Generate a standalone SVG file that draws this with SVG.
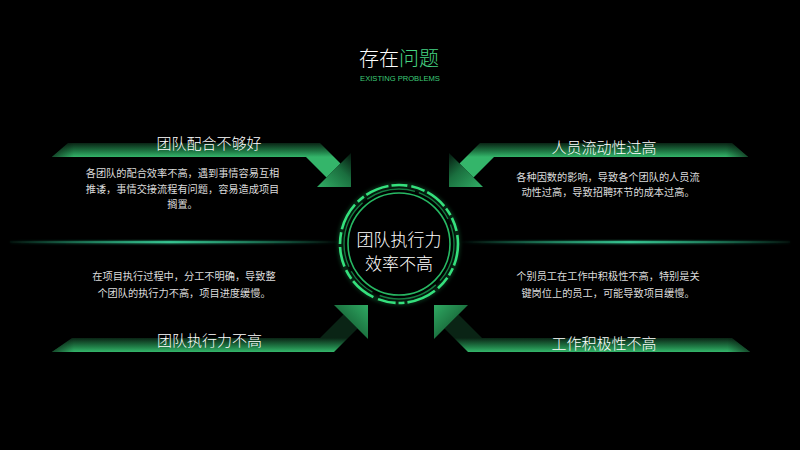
<svg xmlns="http://www.w3.org/2000/svg" width="800" height="450" viewBox="0 0 800 450">
  <defs>
    <linearGradient id="bandTop" x1="0" y1="143" x2="0" y2="157" gradientUnits="userSpaceOnUse">
      <stop offset="0" stop-color="#0a2415"/>
      <stop offset="0.6" stop-color="#1f7a45"/>
      <stop offset="1" stop-color="#34b56a"/>
    </linearGradient>
    <linearGradient id="bandBot" x1="0" y1="338" x2="0" y2="352" gradientUnits="userSpaceOnUse">
      <stop offset="0" stop-color="#0a2415"/>
      <stop offset="0.6" stop-color="#1f7a45"/>
      <stop offset="1" stop-color="#34b56a"/>
    </linearGradient>
    <linearGradient id="fadeL" x1="0" y1="0" x2="1" y2="0">
      <stop offset="0" stop-color="#000" stop-opacity="0.85"/>
      <stop offset="0.25" stop-color="#000" stop-opacity="0"/>
      <stop offset="1" stop-color="#000" stop-opacity="0"/>
    </linearGradient>
    <linearGradient id="fadeR" x1="1" y1="0" x2="0" y2="0">
      <stop offset="0" stop-color="#000" stop-opacity="0.85"/>
      <stop offset="0.25" stop-color="#000" stop-opacity="0"/>
      <stop offset="1" stop-color="#000" stop-opacity="0"/>
    </linearGradient>
    <linearGradient id="headTL" x1="320" y1="186" x2="352" y2="152" gradientUnits="userSpaceOnUse">
      <stop offset="0" stop-color="#2fa862"/>
      <stop offset="0.55" stop-color="#1a6e3e"/>
      <stop offset="1" stop-color="#03100a"/>
    </linearGradient>
    <linearGradient id="headTR" x1="480" y1="186" x2="448" y2="152" gradientUnits="userSpaceOnUse">
      <stop offset="0" stop-color="#2fa862"/>
      <stop offset="0.55" stop-color="#1a6e3e"/>
      <stop offset="1" stop-color="#03100a"/>
    </linearGradient>
    <linearGradient id="headBL" x1="336" y1="338" x2="368" y2="306" gradientUnits="userSpaceOnUse">
      <stop offset="0" stop-color="#06180d"/>
      <stop offset="0.5" stop-color="#1d7642"/>
      <stop offset="1" stop-color="#2fa862"/>
    </linearGradient>
    <linearGradient id="headBR" x1="466" y1="338" x2="434" y2="306" gradientUnits="userSpaceOnUse">
      <stop offset="0" stop-color="#06180d"/>
      <stop offset="0.5" stop-color="#1d7642"/>
      <stop offset="1" stop-color="#2fa862"/>
    </linearGradient>
    <linearGradient id="glowL" x1="0" y1="0" x2="340" y2="0" gradientUnits="userSpaceOnUse">
      <stop offset="0" stop-color="#2fd39a" stop-opacity="0"/>
      <stop offset="0.5" stop-color="#3fe0a6" stop-opacity="1"/>
      <stop offset="1" stop-color="#2fd39a" stop-opacity="0"/>
    </linearGradient>
    <linearGradient id="glowR" x1="460" y1="0" x2="800" y2="0" gradientUnits="userSpaceOnUse">
      <stop offset="0" stop-color="#2fd39a" stop-opacity="0"/>
      <stop offset="0.5" stop-color="#3fe0a6" stop-opacity="1"/>
      <stop offset="1" stop-color="#2fd39a" stop-opacity="0"/>
    </linearGradient>
    <filter id="blur" x="-10%" y="-200%" width="120%" height="500%">
      <feGaussianBlur stdDeviation="1.2"/>
    </filter>
    <filter id="ringGlow" x="-30%" y="-30%" width="160%" height="160%">
      <feGaussianBlur stdDeviation="2"/>
    </filter>
  </defs>
  <style>
    .cjk { font-family: "Noto Sans CJK SC", "Noto Sans", sans-serif; }
    .title { font-size: 20px; fill: #ffffff; text-anchor: middle; font-weight: 300; }
    .sub { font-family: "Liberation Sans", "Noto Sans", sans-serif; font-size: 7.6px; fill: #3dcc78; text-anchor: middle; }
    .head { font-size: 15px; fill: #ffffff; text-anchor: middle; font-weight: 300; }
    .body { font-size: 10.2px; fill: #dcdcdc; text-anchor: middle; }
    .center { font-size: 17px; fill: #ffffff; text-anchor: middle; font-weight: 300; }
  </style>

  <rect width="800" height="450" fill="#000000"/>

  <!-- horizontal glow lines -->
  <g id="glow-lines">
    <rect x="10" y="241" width="330" height="2.4" fill="url(#glowL)" filter="url(#blur)"/>
    <rect x="10" y="241.4" width="330" height="1.2" fill="url(#glowL)"/>
    <rect x="460" y="241" width="330" height="2.4" fill="url(#glowR)" filter="url(#blur)"/>
    <rect x="460" y="241.4" width="330" height="1.2" fill="url(#glowR)"/>
  </g>

  <!-- title -->
  <g id="title">
    <text class="cjk title" x="399" y="66"><tspan fill="#ffffff">存在</tspan><tspan fill="#46d483">问题</tspan></text>
    <text class="sub" x="400" y="81">EXISTING PROBLEMS</text>
  </g>

  <!-- connectors: bent arrows pointing at the centre -->
  <g id="connectors">
    <!-- top-left -->
    <path d="M52,157 L68,143 L320,143 L340.5,163.5 L326.5,177.5 L306,157 Z" fill="url(#bandTop)"/>
    <path d="M52,157 L68,143 L140,143 L140,157 Z" fill="url(#fadeL)" opacity="0.7"/>
    <path d="M340.5,163.5 L351,153 L351,187 L317,187 L326.5,177.5 Z" fill="url(#headTL)"/>
    <!-- top-right -->
    <path d="M748,157 L732,143 L480,143 L459.5,163.5 L473.5,177.5 L494,157 Z" fill="url(#bandTop)"/>
    <path d="M748,157 L732,143 L660,143 L660,157 Z" fill="url(#fadeR)" opacity="0.7"/>
    <path d="M459.5,163.5 L449,153 L449,187 L483,187 L473.5,177.5 Z" fill="url(#headTR)"/>
    <!-- bottom-left -->
    <path d="M52,352 L72,338 L320,338 L343.5,314.5 L357.5,328.5 L334,352 Z" fill="url(#bandBot)"/>
    <path d="M52,352 L72,338 L140,338 L140,352 Z" fill="url(#fadeL)" opacity="0.7"/>
    <path d="M343.5,314.5 L334,305 L368,305 L368,339 L357.5,328.5 Z" fill="url(#headBL)"/>
    <!-- bottom-right -->
    <path d="M750,352 L732,338 L482,338 L458.5,314.5 L444.5,328.5 L468,352 Z" fill="url(#bandBot)"/>
    <path d="M750,352 L732,338 L660,338 L660,352 Z" fill="url(#fadeR)" opacity="0.7"/>
    <path d="M458.5,314.5 L468,305 L434,305 L434,339 L444.5,328.5 Z" fill="url(#headBR)"/>
  </g>

  <!-- nodes -->
  <g id="node-teamwork">
    <text class="cjk head" x="209" y="149">团队配合不够好</text>
    <text class="cjk body" x="182.5" y="177">各团队的配合效率不高，遇到事情容易互相</text>
    <text class="cjk body" x="182.5" y="193">推诿，事情交接流程有问题，容易造成项目</text>
    <text class="cjk body" x="182.5" y="208">搁置。</text>
  </g>

  <g id="node-turnover">
    <text class="cjk head" x="604" y="153">人员流动性过高</text>
    <text class="cjk body" x="608" y="181">各种因数的影响，导致各个团队的人员流</text>
    <text class="cjk body" x="608" y="196">动性过高，导致招聘环节的成本过高。</text>
  </g>

  <g id="node-execution">
    <text class="cjk body" x="184" y="280">在项目执行过程中，分工不明确，导致整</text>
    <text class="cjk body" x="184" y="297">个团队的执行力不高，项目进度缓慢。</text>
    <text class="cjk head" x="209.5" y="346">团队执行力不高</text>
  </g>

  <g id="node-motivation">
    <text class="cjk body" x="608" y="280">个别员工在工作中积极性不高，特别是关</text>
    <text class="cjk body" x="608" y="297">键岗位上的员工，可能导致项目缓慢。</text>
    <text class="cjk head" x="604" y="349">工作积极性不高</text>
  </g>

  <g id="node-center">
    <circle cx="399" cy="244" r="59" fill="none" stroke="#2ee07a" stroke-width="3" opacity="0.35" filter="url(#ringGlow)"/>
    <circle cx="399" cy="244" r="59" fill="none" stroke="#35e07d" stroke-width="2.6" stroke-dasharray="22 3 8 3 14 4 30 3 6 3 18 5 26 3 10 4 20 3 12 3 28 4 8 3 24 3 16 4 14 3"/>
    <circle cx="399" cy="244" r="55" fill="none" stroke="#157a40" stroke-width="1.4" stroke-dasharray="40 6 60 8 30 5 70 6 50 4"/>
    <circle cx="399" cy="244" r="51" fill="none" stroke="#27b863" stroke-width="1.6"/>
    <text class="cjk center" x="399" y="246">团队执行力</text>
    <text class="cjk center" x="399" y="270">效率不高</text>
  </g>
</svg>
